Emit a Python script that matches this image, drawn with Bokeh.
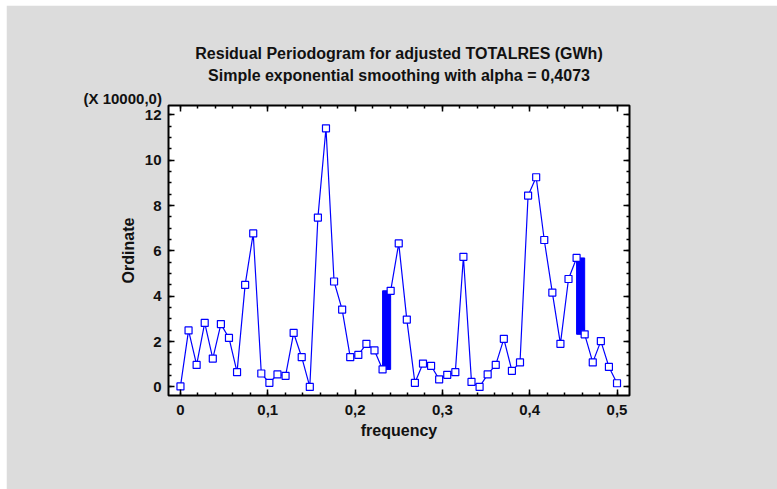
from bokeh.plotting import figure
from bokeh.models import LinearAxis, FixedTicker, ColumnDataSource, Range1d, Title
from bokeh.embed import file_html
from bokeh.resources import INLINE

# ---- data ----
n_obs = 108
ordinate = [0.02, 2.49, 0.97, 2.82, 1.25, 2.77, 2.16, 0.65, 4.50, 6.77,
            0.59, 0.18, 0.55, 0.49, 2.38, 1.31, 0.00, 7.47, 11.41, 4.65,
            3.41, 1.31, 1.41, 1.90, 1.61, 0.77, 4.24, 6.33, 2.97, 0.18,
            1.03, 0.93, 0.33, 0.53, 0.65, 5.74, 0.22, 0.00, 0.55, 0.97,
            2.12, 0.71, 1.08, 8.44, 9.25, 6.48, 4.16, 1.90, 4.76, 5.69,
            2.32, 1.08, 2.02, 0.88, 0.16]
frequency = [k / n_obs for k in range(len(ordinate))]
thick_segments = [25, 49]
x_ticks = [0, 0.1, 0.2, 0.3, 0.4, 0.5]
x_tick_labels = ["0", "0,1", "0,2", "0,3", "0,4", "0,5"]
y_ticks = [0, 2, 4, 6, 8, 10, 12]
y_tick_labels = ["0", "2", "4", "6", "8", "10", "12"]
title1 = "Residual Periodogram for adjusted TOTALRES (GWh)"
title2 = "Simple exponential smoothing with alpha = 0,4073"
scale_note = "(X 10000,0)"
x_label = "frequency"
y_label = "Ordinate"

FONT = "Liberation Sans"
GRAY = "#dcdcdc"
BLUE = "#0000ff"
TXT = "#111111"
W, H = 771, 484
ML, MR, MT, MB = 162, 148, 100, 94
OFF_X, OFF_Y = 6, 5

p = figure(width=W, height=H, output_backend="svg", toolbar_location=None,
           x_range=Range1d(-0.0137, 0.5143), y_range=Range1d(-0.38, 12.415),
           min_border_left=ML, min_border_right=MR, min_border_top=MT,
           min_border_bottom=MB, x_axis_location=None, y_axis_location=None,
           background_fill_color="white", border_fill_color=GRAY,
           outline_line_color="black", outline_line_width=2,
           margin=(OFF_Y, 0, 0, OFF_X))
p.xgrid.visible = False
p.ygrid.visible = False

x_minor = [round(i * 0.02, 4) for i in range(0, 26)]
y_minor = [i * 0.5 for i in range(0, 25)]

def make_axis(ticks, minor, labels, show_labels):
    ax = LinearAxis(ticker=FixedTicker(ticks=ticks, minor_ticks=minor))
    ax.axis_line_color = None
    ax.major_tick_in = 6
    ax.major_tick_out = 0
    ax.minor_tick_in = 3
    ax.minor_tick_out = 0
    ax.major_tick_line_color = "black"
    ax.minor_tick_line_color = "black"
    ax.major_tick_line_width = 1.5
    ax.minor_tick_line_width = 1.5
    if show_labels:
        ax.major_label_overrides = {t: l for t, l in zip(ticks, labels)}
        ax.major_label_text_font = FONT
        ax.major_label_text_font_style = "bold"
        ax.major_label_text_font_size = "15px"
        ax.major_label_text_color = TXT
        ax.axis_label_text_font = FONT
        ax.axis_label_text_font_style = "bold"
        ax.axis_label_text_font_size = "16px"
        ax.axis_label_text_color = TXT
    else:
        ax.major_label_text_font_size = "0px"
        ax.major_label_text_color = None
        ax.major_label_standoff = 0
    return ax

bx = make_axis(x_ticks, x_minor, x_tick_labels, True)
bx.major_label_standoff = 9
bx.axis_label = x_label
bx.axis_label_standoff = 4
p.add_layout(bx, "below")

ly = make_axis(y_ticks, y_minor, y_tick_labels, True)
ly.major_label_standoff = 7
ly.axis_label = y_label
ly.axis_label_standoff = 5
p.add_layout(ly, "left")

p.add_layout(make_axis(x_ticks, x_minor, x_tick_labels, False), "above")
p.add_layout(make_axis(y_ticks, y_minor, y_tick_labels, False), "right")

def add_title(text, size, align="center", offset=0, standoff=0):
    t = Title(text=text, align=align, offset=offset, standoff=standoff,
              text_font=FONT, text_font_style="bold", text_font_size=size,
              text_color=TXT)
    p.add_layout(t, "above")

add_title(scale_note, "15px", align="left", offset=-85, standoff=-3)
add_title(title2, "16px", offset=-6, standoff=12)
add_title(title1, "16px", offset=-6, standoff=-6)

src = ColumnDataSource(dict(x=frequency, y=ordinate))
p.line("x", "y", source=src, line_color=BLUE, line_width=1.2)

qsrc = ColumnDataSource(dict(
    left=[frequency[i] for i in thick_segments],
    right=[frequency[i + 1] for i in thick_segments],
    bottom=[min(ordinate[i], ordinate[i + 1]) for i in thick_segments],
    top=[max(ordinate[i], ordinate[i + 1]) for i in thick_segments]))
p.quad(left="left", right="right", bottom="bottom", top="top", source=qsrc,
       fill_color=BLUE, line_color=BLUE)

p.scatter("x", "y", source=src, marker="square", size=7, line_color=BLUE,
          line_width=1.2, fill_color="white")

open("out.html", "w").write(file_html(p, INLINE))
